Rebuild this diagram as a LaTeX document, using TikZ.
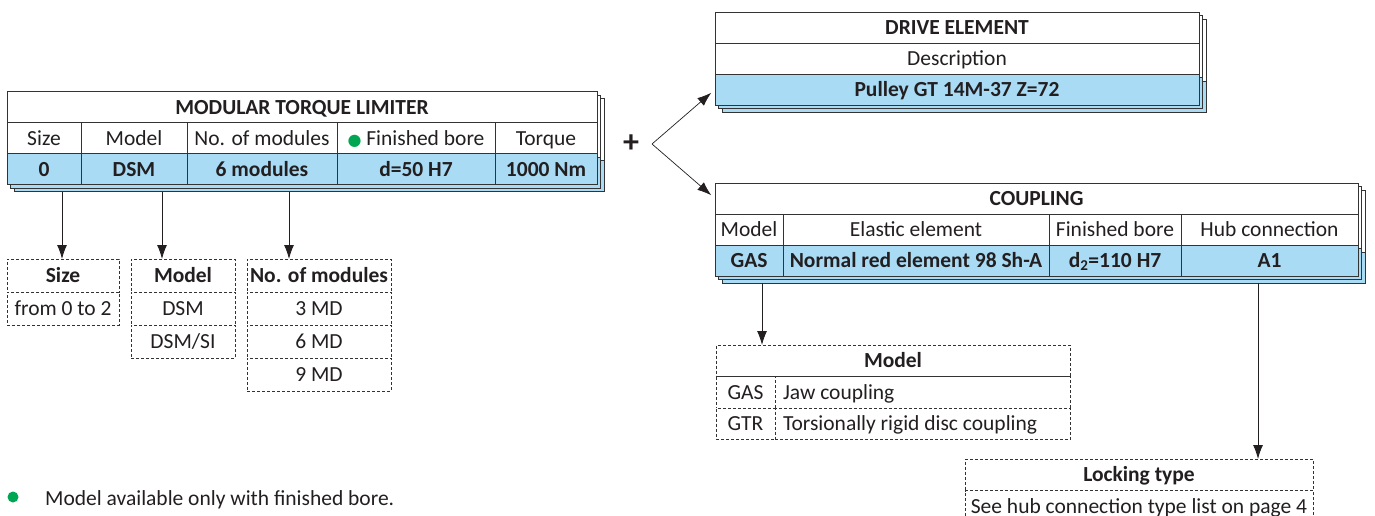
\documentclass[tikz,border=0pt]{standalone}
\usepackage{fontspec}
\setmainfont{Carlito}
\newfontfamily\symfont{DejaVu Sans}
\usepackage{tikz}
\usetikzlibrary{positioning, arrows.meta, backgrounds}
\definecolor{cellblue}{HTML}{A9DBF5}
\definecolor{linegray}{HTML}{333333}
\definecolor{txtgray}{HTML}{231F20}
\definecolor{dotgreen}{HTML}{00A651}
\tikzstyle{cell} = [draw=linegray, fill=white, line width=0.8pt, minimum height=31pt, inner sep=0pt, outer sep=0pt, text=txtgray, text height=16pt, text depth=2pt, font=\fontsize{21.5}{25}\selectfont]
\tikzstyle{titlecell} = [cell, font=\fontsize{21.5}{25}\selectfont\bfseries]
\tikzstyle{valcell} = [cell, fill=cellblue, font=\fontsize{21.5}{25}\selectfont\bfseries]
\tikzstyle{dcell} = [cell, dash pattern=on 3pt off 2pt, minimum height=33pt]
\tikzstyle{dtitle} = [dcell, font=\fontsize{21.5}{25}\selectfont\bfseries]
\tikzstyle{layer} = [draw=linegray, line width=0.8pt]
\tikzstyle{pointer} = [draw=txtgray, line width=0.9pt, -{Latex[length=14pt,width=10pt]}]

\begin{document}
\begin{tikzpicture}[x=1pt, y=-1pt]
\useasboundingbox (0,0) rectangle (1375,516);

% modular torque limiter
\node[titlecell, minimum width=590pt, anchor=north west] (mtl) at (7,91.5) {MODULAR TORQUE LIMITER};
\node[cell, minimum width=74pt, anchor=north west] (hsize) at (mtl.south west) {Size};
\node[cell, minimum width=106pt, right=0pt of hsize] (hmodel) {Model};
\node[cell, minimum width=150pt, right=0pt of hmodel] (hmodules) {No. of modules};
\node[cell, minimum width=158pt, right=0pt of hmodules] (hbore) {{\symfont\fontsize{16}{16}\selectfont\textcolor{dotgreen}{●}} Finished bore};
\node[cell, minimum width=102pt, right=0pt of hbore] (htorque) {Torque};
\node[valcell, minimum width=74pt, anchor=north west] (vsize) at (hsize.south west) {0};
\node[valcell, minimum width=106pt, right=0pt of vsize] (vmodel) {DSM};
\node[valcell, minimum width=150pt, right=0pt of vmodel] (vmodules) {6 modules};
\node[valcell, minimum width=158pt, right=0pt of vmodules] (vbore) {d=50 H7};
\node[valcell, minimum width=102pt, right=0pt of vbore] (vtorque) {1000 Nm};

% drive element
\node[titlecell, minimum width=484pt, anchor=north west] (dtl) at (715,12) {DRIVE ELEMENT};
\node[cell, minimum width=484pt, below=0pt of dtl] (ddesc) {Description};
\node[valcell, minimum width=484pt, below=0pt of ddesc] (dval) {Pulley GT 14M-37 Z=72};

% coupling
\node[titlecell, minimum width=643pt, anchor=north west] (ctl) at (715,183) {COUPLING};
\node[cell, minimum width=68pt, anchor=north west] (cmodel) at (ctl.south west) {Model};
\node[cell, minimum width=266pt, right=0pt of cmodel] (celastic) {Elastic element};
\node[cell, minimum width=132pt, right=0pt of celastic] (cbore) {Finished bore};
\node[cell, minimum width=177pt, right=0pt of cbore] (chub) {Hub connection};
\node[valcell, minimum width=68pt, anchor=north west] (cvmodel) at (cmodel.south west) {GAS};
\node[valcell, minimum width=266pt, right=0pt of cvmodel] (cvelastic) {Normal red element 98 Sh-A};
\node[valcell, minimum width=132pt, right=0pt of cvelastic] (cvbore) {d\textsubscript{2}=110 H7};
\node[valcell, minimum width=177pt, right=0pt of cvbore] (cvhub) {A1};

% stacked sheets behind the tables
\begin{scope}[on background layer]
\foreach \o in {7,3.5} {
  \draw[layer, fill=white] ([shift={(\o,\o)}]mtl.north west) rectangle ([shift={(\o,\o)}]vtorque.south east);
  \draw[layer, fill=cellblue] ([shift={(\o,\o)}]vsize.north west) rectangle ([shift={(\o,\o)}]vtorque.south east);
  \draw[layer, fill=white] ([shift={(\o,\o)}]dtl.north west) rectangle ([shift={(\o,\o)}]dval.south east);
  \draw[layer, fill=cellblue] ([shift={(\o,\o)}]dval.north west) rectangle ([shift={(\o,\o)}]dval.south east);
  \draw[layer, fill=white] ([shift={(\o,\o)}]ctl.north west) rectangle ([shift={(\o,\o)}]cvhub.south east);
  \draw[layer, fill=cellblue] ([shift={(\o,\o)}]cvmodel.north west) rectangle ([shift={(\o,\o)}]cvhub.south east);
}
\end{scope}

% option lists
\node[dtitle, minimum width=112pt, anchor=north west] (dsize) at (7,259) {Size};
\node[dcell, minimum width=112pt, below=0pt of dsize] (dsize1) {from 0 to 2};
\node[dtitle, minimum width=104pt, anchor=north west] (dmodel) at (131,259) {Model};
\node[dcell, minimum width=104pt, below=0pt of dmodel] (dmodel1) {DSM};
\node[dcell, minimum width=104pt, below=0pt of dmodel1] (dmodel2) {DSM/SI};
\node[dtitle, minimum width=144pt, anchor=north west] (dmod) at (247,259) {No. of modules};
\node[dcell, minimum width=144pt, below=0pt of dmod] (dmod1) {3 MD};
\node[dcell, minimum width=144pt, below=0pt of dmod1] (dmod2) {6 MD};
\node[dcell, minimum width=144pt, below=0pt of dmod2] (dmod3) {9 MD};

\node[dtitle, minimum width=354pt, minimum height=31.5pt, anchor=north west] (dcm) at (716,345) {Model};
\node[dcell, minimum width=59pt, minimum height=31.5pt, anchor=north west] (dcm1) at (dcm.south west) {GAS};
\node[dcell, minimum height=31.5pt, inner xsep=8pt, right=0pt of dcm1] (dcm1t) {\makebox[279pt][l]{Jaw coupling}};
\node[dcell, minimum width=59pt, minimum height=31.5pt, below=0pt of dcm1] (dcm2) {GTR};
\node[dcell, minimum height=31.5pt, inner xsep=8pt, right=0pt of dcm2] (dcm2t) {\makebox[279pt][l]{Torsionally rigid disc coupling}};

\node[dtitle, minimum width=348pt, minimum height=31.5pt, anchor=north west] (lock) at (965,459) {Locking type};
\node[dcell, minimum width=348pt, minimum height=31.5pt, below=0pt of lock] (lock1) {See hub connection type list on page 4};

% connectors
\draw[pointer] ([xshift=18pt, yshift=-7pt]vsize.south) -- ([xshift=18pt]vsize.south |- dsize.north);
\draw[pointer] ([xshift=28pt, yshift=-7pt]vmodel.south) -- ([xshift=28pt]vmodel.south |- dmodel.north);
\draw[pointer] ([xshift=27pt, yshift=-7pt]vmodules.south) -- ([xshift=27pt]vmodules.south |- dmod.north);
\draw[pointer] ([xshift=13pt, yshift=-7pt]cvmodel.south) -- ([xshift=13pt]cvmodel.south |- dcm.north);
\draw[pointer] ([xshift=-11.5pt, yshift=-7pt]cvhub.south) -- ([xshift=-11.5pt]cvhub.south |- lock.north);

\node[text=txtgray, font=\fontsize{32}{32}\selectfont\bfseries] (plus) at (631,144) {+};
\coordinate (fork) at (652,144);
\draw[pointer, line width=0.7pt, shorten >=5pt] (fork) -- (dval.west);
\draw[pointer, line width=0.7pt, shorten >=5pt] (fork) -- (ctl.west);

% footnote
\node[circle, fill=dotgreen, minimum size=11pt, inner sep=0pt] (fndot) at (13,497) {};
\node[anchor=west, inner sep=0pt, text=txtgray, font=\fontsize{21.5}{25}\selectfont] (fntext) at (45,500) {Model available only with finished bore.};
\end{tikzpicture}
\end{document}
